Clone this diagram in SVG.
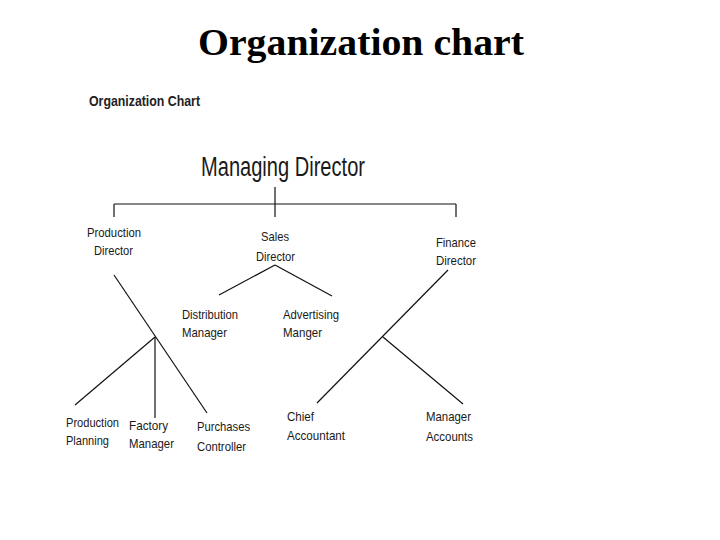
<svg xmlns="http://www.w3.org/2000/svg" width="720" height="540" viewBox="0 0 720 540">
<style>
.t{font-family:"Liberation Sans",Arial,sans-serif;font-size:13px;fill:#1a1a1a}
.c line{stroke:#111;stroke-width:1.2;fill:none}
</style>
<rect width="720" height="540" fill="#fff"/>
<text x="361" y="55" text-anchor="middle" font-family="Liberation Serif,'Times New Roman',serif" font-weight="bold" font-size="37" textLength="326" lengthAdjust="spacingAndGlyphs">Organization chart</text>
<text class="t" x="89" y="106" style="font-size:15px;font-weight:bold;fill:#222" textLength="111" lengthAdjust="spacingAndGlyphs">Organization Chart</text>
<g id="managing-director"><text class="t" x="201" y="176" style="font-size:27px" textLength="164" lengthAdjust="spacingAndGlyphs">Managing Director</text></g>
<g id="production-director"><text class="t" x="87" y="237" textLength="54" lengthAdjust="spacingAndGlyphs">Production</text><text class="t" x="94" y="255" textLength="39" lengthAdjust="spacingAndGlyphs">Director</text></g>
<g id="sales-director"><text class="t" x="261" y="241" textLength="28" lengthAdjust="spacingAndGlyphs">Sales</text><text class="t" x="256" y="261" textLength="39" lengthAdjust="spacingAndGlyphs">Director</text></g>
<g id="finance-director"><text class="t" x="436" y="247" textLength="40" lengthAdjust="spacingAndGlyphs">Finance</text><text class="t" x="436" y="265" textLength="40" lengthAdjust="spacingAndGlyphs">Director</text></g>
<g id="distribution-manager"><text class="t" x="182" y="319" textLength="56" lengthAdjust="spacingAndGlyphs">Distribution</text><text class="t" x="182" y="337" textLength="45" lengthAdjust="spacingAndGlyphs">Manager</text></g>
<g id="advertising-manger"><text class="t" x="283" y="319" textLength="56" lengthAdjust="spacingAndGlyphs">Advertising</text><text class="t" x="283" y="337" textLength="39" lengthAdjust="spacingAndGlyphs">Manger</text></g>
<g id="production-planning"><text class="t" x="66" y="427" textLength="53" lengthAdjust="spacingAndGlyphs">Production</text><text class="t" x="66" y="445" textLength="43" lengthAdjust="spacingAndGlyphs">Planning</text></g>
<g id="factory-manager"><text class="t" x="129" y="430" textLength="39" lengthAdjust="spacingAndGlyphs">Factory</text><text class="t" x="129" y="448" textLength="45" lengthAdjust="spacingAndGlyphs">Manager</text></g>
<g id="purchases-controller"><text class="t" x="197" y="431" textLength="53" lengthAdjust="spacingAndGlyphs">Purchases</text><text class="t" x="197" y="451" textLength="49" lengthAdjust="spacingAndGlyphs">Controller</text></g>
<g id="chief-accountant"><text class="t" x="287" y="421" textLength="27" lengthAdjust="spacingAndGlyphs">Chief</text><text class="t" x="287" y="440" textLength="58" lengthAdjust="spacingAndGlyphs">Accountant</text></g>
<g id="manager-accounts"><text class="t" x="426" y="421" textLength="45" lengthAdjust="spacingAndGlyphs">Manager</text><text class="t" x="426" y="441" textLength="47" lengthAdjust="spacingAndGlyphs">Accounts</text></g>
<g id="connectors" class="c">
<line x1="275" y1="187" x2="275" y2="217"/>
<line x1="114" y1="204" x2="456" y2="204"/>
<line x1="114" y1="204" x2="114" y2="217"/>
<line x1="456" y1="204" x2="456" y2="217"/>
<line x1="114" y1="275" x2="207" y2="413"/>
<line x1="155" y1="337" x2="75" y2="405"/>
<line x1="155" y1="337" x2="155" y2="418"/>
<line x1="219" y1="295" x2="275" y2="265"/>
<line x1="275" y1="265" x2="332" y2="296"/>
<line x1="448" y1="270" x2="317" y2="403"/>
<line x1="383" y1="337" x2="463" y2="404"/>
</g>
</svg>
